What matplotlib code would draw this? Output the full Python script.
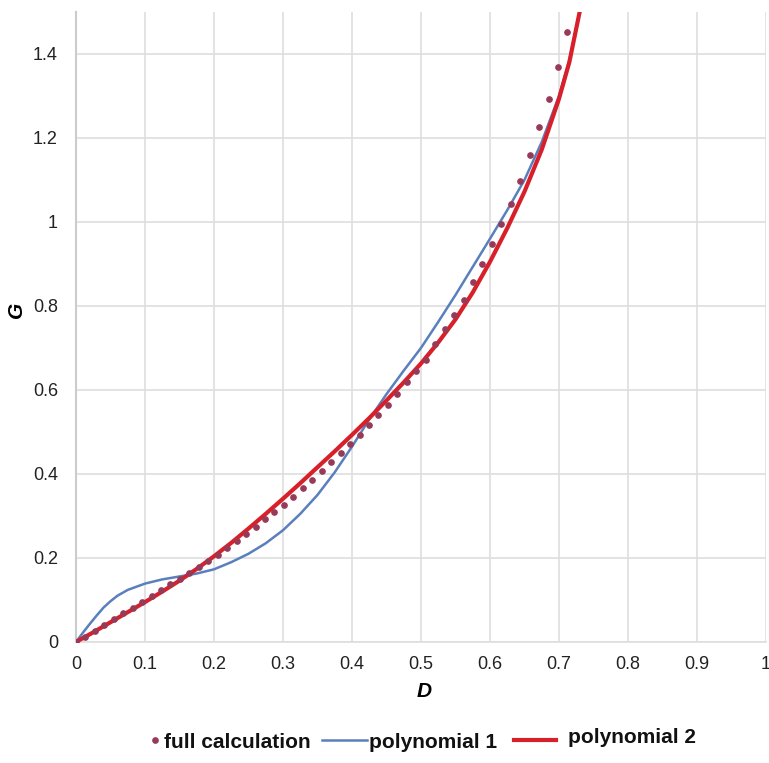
import matplotlib
matplotlib.use("Agg")
import matplotlib.pyplot as plt
from matplotlib.lines import Line2D
from matplotlib.ticker import FuncFormatter

plt.rcParams['font.family'] = ['Liberation Sans', 'DejaVu Sans']

# full calculation (dots)
full_D = [0.000, 0.0137, 0.0274, 0.0411, 0.0548, 0.0685, 0.0822, 0.0959, 0.1096, 0.1233,
          0.137, 0.1507, 0.1644, 0.1781, 0.1918, 0.2055, 0.2192, 0.2329, 0.2466, 0.2603,
          0.274, 0.2877, 0.3014, 0.3151, 0.3288, 0.3425, 0.3562, 0.3699, 0.3836, 0.3973,
          0.411, 0.4247, 0.4384, 0.4521, 0.4658, 0.4795, 0.4932, 0.5069, 0.5206, 0.5343,
          0.548, 0.5617, 0.5754, 0.5891, 0.6028, 0.6165, 0.6302, 0.6439, 0.6576, 0.6713,
          0.685, 0.6987, 0.7124]
full_G = [0.000, 0.013, 0.027, 0.041, 0.055, 0.068, 0.082, 0.096, 0.110, 0.123,
          0.137, 0.151, 0.165, 0.179, 0.193, 0.207, 0.224, 0.240, 0.257, 0.274,
          0.292, 0.309, 0.327, 0.346, 0.366, 0.386, 0.407, 0.428, 0.449, 0.471,
          0.494, 0.517, 0.541, 0.565, 0.591, 0.618, 0.645, 0.672, 0.710, 0.745,
          0.778, 0.815, 0.857, 0.900, 0.947, 0.995, 1.043, 1.098, 1.160, 1.225,
          1.293, 1.370, 1.452]

# polynomial 1 (blue)
p1_D = [0.000, 0.010, 0.020, 0.030, 0.040, 0.050, 0.060, 0.075, 0.100, 0.125,
        0.150, 0.175, 0.200, 0.225, 0.250, 0.275, 0.300, 0.325, 0.350, 0.375,
        0.400, 0.425, 0.450, 0.475, 0.500, 0.525, 0.550, 0.575, 0.600, 0.625,
        0.650, 0.675, 0.700, 0.715, 0.730]
p1_G = [0.000, 0.022, 0.043, 0.063, 0.082, 0.097, 0.110, 0.124, 0.139, 0.149,
        0.156, 0.163, 0.173, 0.190, 0.210, 0.235, 0.266, 0.305, 0.350, 0.404,
        0.465, 0.530, 0.590, 0.646, 0.700, 0.762, 0.826, 0.893, 0.960, 1.028,
        1.100, 1.190, 1.300, 1.385, 1.500]

# polynomial 2 (red)
p2_D = [0.000, 0.025, 0.050, 0.075, 0.100, 0.125, 0.150, 0.175, 0.200, 0.225,
        0.250, 0.275, 0.300, 0.325, 0.350, 0.375, 0.400, 0.425, 0.450, 0.475,
        0.500, 0.525, 0.550, 0.575, 0.600, 0.625, 0.650, 0.675, 0.700, 0.715,
        0.730]
p2_G = [0.000, 0.023, 0.047, 0.071, 0.095, 0.120, 0.146, 0.174, 0.204, 0.236,
        0.270, 0.305, 0.341, 0.378, 0.416, 0.454, 0.493, 0.533, 0.575, 0.618,
        0.663, 0.713, 0.768, 0.832, 0.905, 0.985, 1.072, 1.172, 1.293, 1.380,
        1.500]

x_ticks = [0, 0.1, 0.2, 0.3, 0.4, 0.5, 0.6, 0.7, 0.8, 0.9, 1.0]
y_ticks = [0, 0.2, 0.4, 0.6, 0.8, 1.0, 1.2, 1.4]
labels = ['full calculation', 'polynomial 1', 'polynomial 2']

dot_color = '#963a58'
blue = '#5a7fbd'
red = '#d7202a'
grid_c = '#dedede'

W, H = 769, 763
fig = plt.figure(figsize=(W / 100, H / 100), dpi=100)
ax = fig.add_axes([0.0988, 0.1586, 0.8972, 0.8257])

ax.plot(p1_D, p1_G, color=blue, lw=1.8, zorder=3)
ax.plot(p2_D, p2_G, color=red, lw=3.0, zorder=4)
ax.plot(full_D, full_G, linestyle='none', marker='o', ms=3.8, color=dot_color, zorder=5)

ax.set_xlim(0, 1)
ax.set_ylim(0, 1.5)
ax.set_xticks(x_ticks)
ax.set_yticks(y_ticks)
fmt = FuncFormatter(lambda v, p: '%g' % round(v, 2))
ax.xaxis.set_major_formatter(fmt)
ax.yaxis.set_major_formatter(fmt)
ax.grid(True, color=grid_c, lw=1.2, zorder=0)
ax.tick_params(length=0, labelsize=13, colors='#222222')
ax.tick_params(axis='x', pad=10)
ax.tick_params(axis='y', pad=13)
for s in ['top', 'right']:
    ax.spines[s].set_visible(False)
ax.spines['left'].set_color('#cccccc')
ax.spines['bottom'].set_color(grid_c)
ax.spines['left'].set_linewidth(1.5)
ax.spines['bottom'].set_linewidth(1.2)

ax.set_xlabel('D', fontsize=15, fontweight='bold', fontstyle='italic')
ax.set_ylabel('G', fontsize=15, fontweight='bold', fontstyle='italic')
ax.xaxis.set_label_coords(0.504, -0.063)
ax.yaxis.set_label_coords(-0.073, (642 - 310) / 630)

# legend drawn manually in figure pixel positions
def fx(px):
    return px / W

def fy(py):
    return 1 - py / H

fig.add_artist(Line2D([fx(155)], [fy(740)], linestyle='none', marker='o', ms=3.8,
                      color=dot_color, transform=fig.transFigure))
fig.add_artist(Line2D([fx(322), fx(367)], [fy(740), fy(740)], color=blue, lw=1.8,
                      transform=fig.transFigure))
fig.add_artist(Line2D([fx(514), fx(556)], [fy(740), fy(740)], color=red, lw=3.0,
                      transform=fig.transFigure))
lkw = dict(fontsize=15, fontweight='bold', color='#111111', va='baseline', ha='left')
fig.text(fx(164), fy(748), labels[0], **lkw)
fig.text(fx(369), fy(748), labels[1], **lkw)
fig.text(fx(568), fy(743), labels[2], **lkw)

fig.savefig('out.png', dpi=100, facecolor='white')
